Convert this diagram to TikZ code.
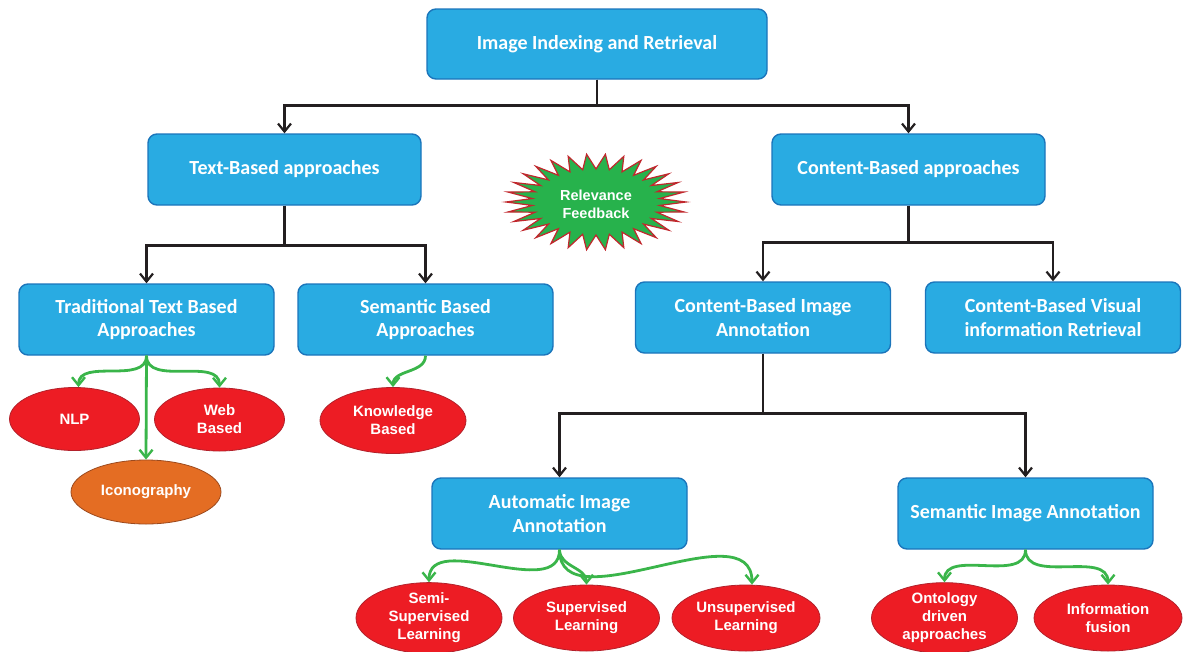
\documentclass[tikz,border=0pt]{standalone}
\usepackage{fontspec}
\newfontfamily\boxfont{Carlito}
\newfontfamily\ellfont{Liberation Sans}
\usetikzlibrary{arrows.meta,shapes.geometric}
\definecolor{boxblue}{HTML}{29ABE2}
\definecolor{boxedge}{HTML}{1B75BB}
\definecolor{ellred}{HTML}{ED1C24}
\definecolor{elledge}{HTML}{B2212B}
\definecolor{iconorange}{HTML}{E46D23}
\definecolor{iconedge}{HTML}{9C4A1E}
\definecolor{arrgreen}{HTML}{3AB54A}
\definecolor{burstgreen}{HTML}{27B24C}
\definecolor{burstedge}{HTML}{C1272D}
\definecolor{linedark}{HTML}{231F20}
\begin{document}
\begin{tikzpicture}[x=1pt,y=-1pt,
 box/.style={draw=boxedge, line width=1.4pt, fill=boxblue, rounded corners=9pt,
   minimum height=71pt, minimum width=255pt, inner sep=0pt, text=white, align=center,
   font=\boxfont\bfseries\fontsize{20}{23.5}\selectfont},
 oval/.style={ellipse, draw=elledge, line width=0.8pt, fill=ellred, minimum width=130pt,
   minimum height=63pt, inner sep=0pt, text=white, align=center,
   font=\ellfont\bfseries\fontsize{15}{18}\selectfont},
 tree/.style={draw=linedark, line width=2.6pt,
   -{Straight Barb[length=8pt,width=13pt,line width=2.2pt]}},
 gar/.style={draw=arrgreen, line width=2.8pt,
   -{Straight Barb[length=8pt,width=13pt,line width=2.4pt]}},
 burst/.style={fill=burstgreen, draw=burstedge, line width=1.2pt, line join=miter}
]
\useasboundingbox (0,0) rectangle (1186,651);

% boxes
\node[box, minimum width=340pt, minimum height=70pt] (top) at (597,44) {Image Indexing and Retrieval};
\node[box, minimum width=273pt] (tb) at (284.5,169.5) {Text-Based approaches};
\node[box, minimum width=273pt] (cb) at (908.5,169.5) {Content-Based approaches};
\node[box] (tt) at (146.5,319.5) {Traditional Text Based\\Approaches};
\node[box] (sb) at (425.5,319.5) {Semantic Based\\Approaches};
\node[box] (cbia) at (763,317.5) {Content-Based Image\\Annotation};
\node[box] (cbvr) at (1053,317.5) {Content-Based Visual\\information Retrieval};
\node[box] (aia) at (559.5,513.5) {Automatic Image\\Annotation};
\node[box] (sia) at (1025.5,513.5) {Semantic Image Annotation};

% ellipses
\node[oval] (nlp) at (74.5,419) {NLP};
\node[oval] (web) at (219.5,419.5) {Web\\Based};
\node[oval, fill=iconorange, draw=iconedge, minimum width=150pt, minimum height=64pt] (icon) at (146,492) {Iconography};
\node[oval, minimum width=146pt, minimum height=66pt] (kb) at (393,420.5) {Knowledge\\Based};
\node[oval, minimum width=146pt, minimum height=66pt] (semi) at (429,618) {Semi-\\Supervised\\Learning};
\node[oval, minimum width=146pt, minimum height=66pt] (sup) at (586.5,618) {Supervised\\Learning};
\node[oval, minimum width=148pt, minimum height=66pt] (uns) at (746,618) {Unsupervised\\Learning};
\node[oval, minimum width=146pt, minimum height=66pt] (ont) at (944.5,618) {Ontology\\driven\\approaches};
\node[oval, minimum width=148pt, minimum height=66pt] (inf) at (1108,618) {Information\\fusion};

% relevance feedback starburst
\draw[burst] (686,202) \foreach \a in {0,12,...,348} {
   -- ({596+64*cos(\a+6)},{202+33*sin(\a+6)})
   -- ({596+90*cos(\a+12)},{202+48*sin(\a+12)}) } -- cycle;
\node[text=white, align=center, font=\ellfont\bfseries\fontsize{14.5}{18}\selectfont] (rf) at (596,204) {Relevance\\Feedback};

% tree connectors
\draw[tree] (top.south) -- ++(0,26) -| (tb.north);
\draw[tree] (top.south) -- ++(0,26) -| (cb.north);
\draw[tree] (tb.south) -- ++(0,40) -| (tt.north);
\draw[tree] (tb.south) -- ++(0,40) -| (sb.north);
\draw[tree] (cb.south) -- ++(0,37) -| (cbia.north);
\draw[tree] (cb.south) -- ++(0,37) -| (cbvr.north);
\draw[tree] (cbia.south) -- ++(0,60) -| (aia.north);
\draw[tree] (cbia.south) -- ++(0,60) -| (sia.north);

% green arrows
\draw[gar] (tt.south) to[out=-90,in=90] ([xshift=4pt]nlp.north);
\draw[gar] (tt.south) to[out=-90,in=90] (web.north);
\draw[gar] (tt.south) -- (icon.north);
\draw[gar] (sb.south) to[out=-90,in=90] (kb.north);
\draw[gar] (aia.south) to[out=-90,in=90] (semi.north);
\draw[gar] (aia.south) to[out=-90,in=90] (sup.north);
\draw[gar] (aia.south) to[out=-90,in=90] ([xshift=6pt]uns.north);
\draw[gar] (sia.south) to[out=-90,in=90] (ont.north);
\draw[gar] (sia.south) to[out=-90,in=90] (inf.north);
\end{tikzpicture}
\end{document}
